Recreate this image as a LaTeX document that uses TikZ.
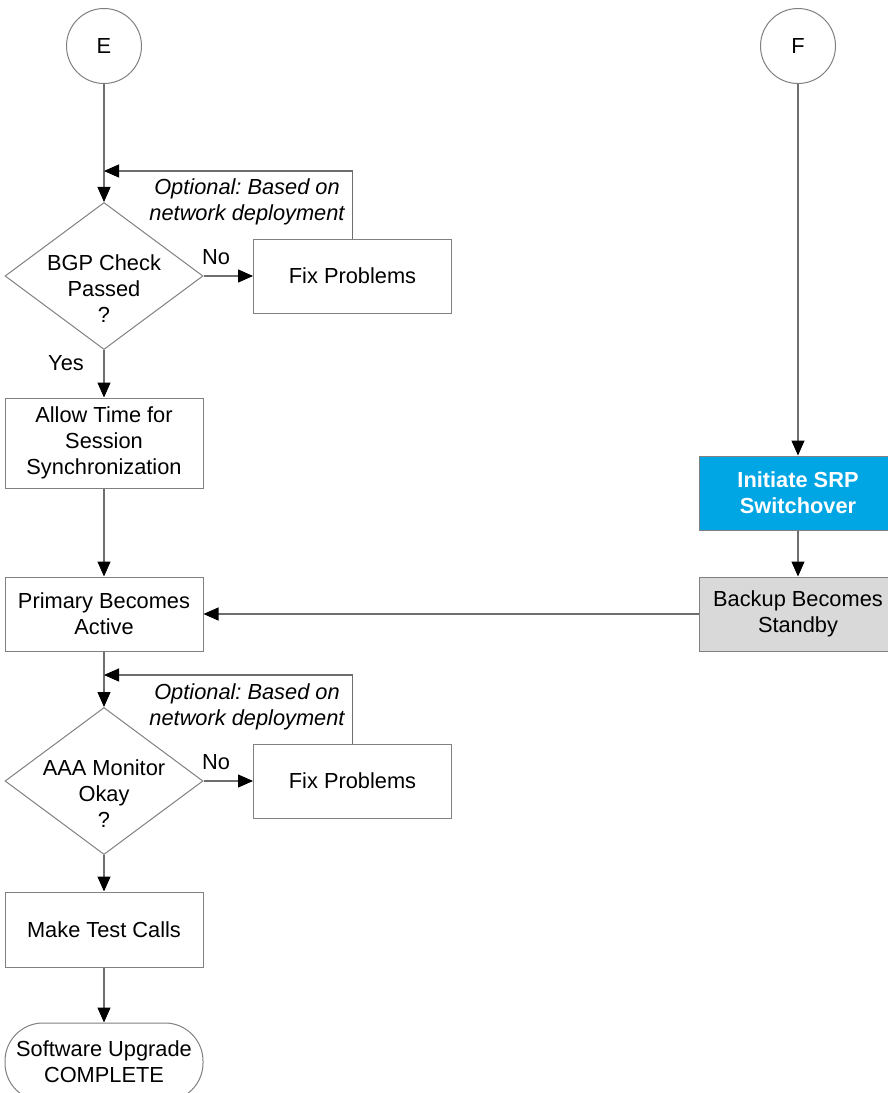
\documentclass[tikz,border=0pt]{standalone}
\usepackage{fontspec}
\setmainfont{Liberation Sans}
\usepackage{xcolor}
\usetikzlibrary{arrows.meta,shapes.geometric}
\definecolor{srpblue}{RGB}{0,166,228}
\definecolor{lineg}{RGB}{110,110,110}
\definecolor{boxg}{RGB}{128,128,128}
\frenchspacing

\begin{document}
\begin{tikzpicture}[x=1pt, y=-1pt,
  every node/.style={font=\fontsize{21.8}{26}\selectfont, align=center},
  note/.style={font=\fontsize{21.8}{26}\selectfont\itshape},
  box/.style={draw=boxg, line width=1pt, minimum width=198pt, inner sep=0pt},
  connector/.style={draw=boxg, circle, line width=1pt, minimum size=75pt, inner sep=0pt},
  decision/.style={draw=boxg, diamond, line width=1pt, minimum width=198pt, minimum height=147pt, inner sep=0pt},
  conn/.style={draw=lineg, line width=1.1pt},
  flow/.style={conn, -{Triangle[length=15pt,width=13pt,color=black]}}]
\useasboundingbox (0,0) rectangle (888,1093);
\node[connector] (e) at (104,46) {E};
\node[connector] (f) at (798,46) {F};
\node[decision] (bgp) at (104,276) {};
\node (bgptext) at (104,288.5) {BGP Check\\Passed\\?};
\node[box, minimum height=74pt] (fixa) at (352.5,276) {Fix Problems};
\node[note] (opta) at (247,201.5) {Optional: Based on\\network deployment};
\coordinate (joina) at (104,171);
\node (noa) at (216,257) {No};
\node (yes) at (66,363) {Yes};
\node[box, minimum height=90pt] (allow) at (104,443) {Allow Time for\\Session\\Synchronization};
\node[box, minimum height=74pt] (primary) at (104,614) {Primary Becomes\\Active};
\node[box, fill=srpblue, text=white, font=\fontsize{21.8}{26}\selectfont\bfseries, minimum height=74pt] (srp) at (798,493) {Initiate SRP\\Switchover};
\node[box, fill=gray!30, minimum height=74pt] (backup) at (798,614) {Backup Becomes\\Standby};
\node[decision] (aaa) at (104,781) {};
\node (aaatext) at (104,793.5) {AAA Monitor\\Okay\\?};
\node[box, minimum height=74pt] (fixb) at (352.5,781) {Fix Problems};
\node[note] (optb) at (247,706.5) {Optional: Based on\\network deployment};
\coordinate (joinb) at (104,675);
\node (nob) at (216,762) {No};
\node[box, minimum height=75pt] (test) at (104,929.5) {Make Test Calls};
\node[box, rounded corners=38pt, minimum height=78pt] (done) at (104,1062) {Software Upgrade\\COMPLETE};
\draw[flow] (e) -- (bgp);
\draw[flow] (bgp) -- (fixa);
\draw[flow] (fixa.north) |- (joina);
\draw[flow] (bgp) -- (allow);
\draw[flow] (allow) -- (primary);
\draw[flow] (f) -- (srp);
\draw[flow] (srp) -- (backup);
\draw[flow] (backup) -- (primary);
\draw[flow] (primary) -- (aaa);
\draw[flow] (aaa) -- (fixb);
\draw[flow] (fixb.north) |- (joinb);
\draw[flow] (aaa) -- (test);
\draw[flow] (test) -- (done);
\end{tikzpicture}
\end{document}
